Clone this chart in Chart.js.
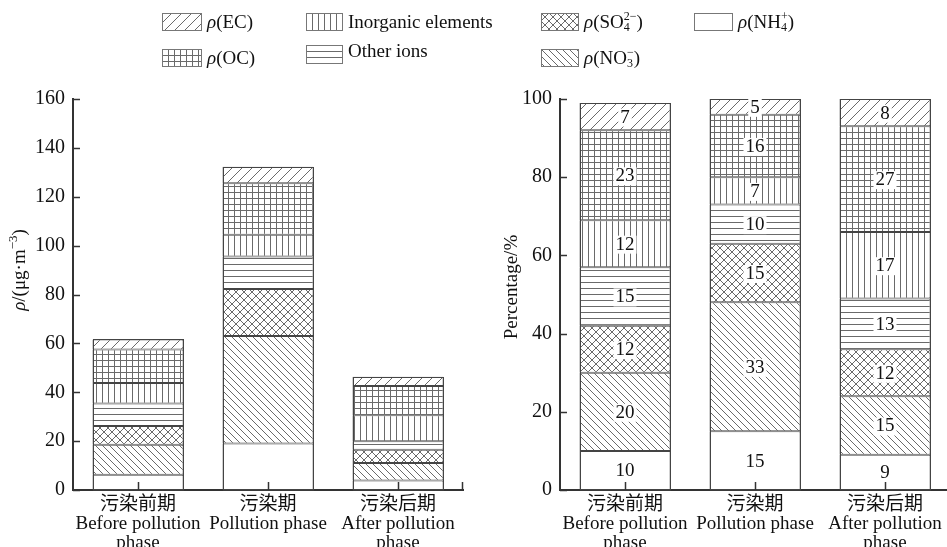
<!DOCTYPE html>
<html>
<head>
<meta charset="utf-8">
<script src="https://cdn.jsdelivr.net/npm/chart.js@4/dist/chart.umd.min.js"></script>
<style>
  html, body { margin: 0; padding: 0; background: #fff; overflow: hidden; width: 947px; height: 547px; }
  canvas.chart { position: absolute; top: 0; }
  #legend { position: absolute; left: 0; top: 0; width: 947px; height: 80px;
            font-family: "Liberation Serif", "Times New Roman", serif; font-size: 19px; color: #111; }
  .item { position: absolute; display: flex; align-items: center; height: 18px; white-space: nowrap; }
  .item canvas { display: block; margin-right: 5px; }
  .stk { display: inline-flex; flex-direction: column; vertical-align: middle; font-size: 12px; line-height: 11px; margin-top: -4px; }
</style>
</head>
<body>
<canvas id="left" class="chart" width="480" height="547" style="left:0"></canvas>
<canvas id="right" class="chart" width="490" height="547" style="left:480px"></canvas>

<div id="legend">
  <div class="item" style="left:162px;top:13px"><canvas width="40" height="18" data-kind="EC"></canvas><span><i>ρ</i>(EC)</span></div>
  <div class="item" style="left:162px;top:49px"><canvas width="40" height="18" data-kind="OC"></canvas><span><i>ρ</i>(OC)</span></div>
  <div class="item" style="left:306px;top:13px"><canvas width="37" height="18" data-kind="Inorganic"></canvas><span>Inorganic elements</span></div>
  <div class="item" style="left:306px;top:45px"><canvas width="37" height="19" data-kind="Other"></canvas><span style="position:relative;top:-3px">Other ions</span></div>
  <div class="item" style="left:541px;top:13px"><canvas width="38" height="18" data-kind="SO4"></canvas><span><i>ρ</i>(SO<span class="stk"><span>2−</span><span>4</span></span>)</span></div>
  <div class="item" style="left:541px;top:49px"><canvas width="38" height="18" data-kind="NO3"></canvas><span><i>ρ</i>(NO<span class="stk"><span>−</span><span>3</span></span>)</span></div>
  <div class="item" style="left:694px;top:13px"><canvas width="39" height="18" data-kind="NH4"></canvas><span><i>ρ</i>(NH<span class="stk"><span>+</span><span>4</span></span>)</span></div>
</div>

<script>
// Sampling periods (multi-line axis labels)
const categories = [
  ['污染前期', 'Before pollution', 'phase'],
  ['污染期', 'Pollution phase'],
  ['污染后期', 'After pollution', 'phase']
];

// Component keys, stacked from the bottom up
const componentKeys = ['NH4', 'NO3', 'SO4', 'Other', 'Inorganic', 'OC', 'EC'];

// Mass concentration, μg·m⁻³ (before, during, after)
const concNH4       = [6.2, 19.0, 3.9];
const concNO3       = [12.3, 44.0, 7.1];
const concSO4       = [7.7, 19.3, 5.5];
const concOther     = [9.2, 13.3, 3.5];
const concInorganic = [8.4, 8.9, 10.6];
const concOC        = [13.7, 21.0, 12.0];
const concEC        = [4.1, 6.8, 3.7];

// Share of total, %
const pctNH4       = [10, 15, 9];
const pctNO3       = [20, 33, 15];
const pctSO4       = [12, 15, 12];
const pctOther     = [15, 10, 13];
const pctInorganic = [12, 7, 17];
const pctOC        = [23, 16, 27];
const pctEC        = [7, 5, 8];

// Axis ticks
const concTicks = [0, 20, 40, 60, 80, 100, 120, 140, 160];
const pctTicks  = [0, 20, 40, 60, 80, 100];

const SERIF = '"Liberation Serif", "Times New Roman", "Noto Sans CJK SC", serif';
const INK = '#444';

// Hatch fills built on small tiles
function makeTile(kind) {
  const sizes = { EC: [10, 10], NO3: [7, 7], SO4: [8, 8], Inorganic: [6, 6], Other: [6, 6], OC: [6, 6], NH4: [4, 4] };
  const [w, h] = sizes[kind];
  const c = document.createElement('canvas');
  c.width = w; c.height = h;
  const g = c.getContext('2d');
  g.fillStyle = '#fff';
  g.fillRect(0, 0, w, h);
  g.strokeStyle = '#6a6a6a';
  g.lineWidth = 1;
  const seg = (x1, y1, x2, y2) => { g.beginPath(); g.moveTo(x1, y1); g.lineTo(x2, y2); g.stroke(); };
  const fwd = () => { seg(0, h, w, 0); seg(-1, 1, 1, -1); seg(w - 1, h + 1, w + 1, h - 1); };
  const back = () => { seg(0, 0, w, h); seg(-1, h - 1, 1, h + 1); seg(w - 1, -1, w + 1, 1); };
  if (kind === 'EC') fwd();
  if (kind === 'NO3') back();
  if (kind === 'SO4') { fwd(); back(); }
  if (kind === 'Inorganic' || kind === 'OC') seg(0.5, 0, 0.5, h);
  if (kind === 'Other' || kind === 'OC') seg(0, 0.5, w, 0.5);
  return c;
}

function makePattern(ctx, kind) {
  return ctx.createPattern(makeTile(kind), 'repeat');
}

// Legend swatches
document.querySelectorAll('#legend canvas').forEach(cv => {
  const g = cv.getContext('2d');
  g.fillStyle = makePattern(g, cv.dataset.kind);
  g.fillRect(0, 0, cv.width, cv.height);
  g.strokeStyle = '#777';
  g.lineWidth = 1;
  g.strokeRect(0.5, 0.5, cv.width - 1, cv.height - 1);
});

// Inward tick marks on both axes
const axisMarks = {
  id: 'axisMarks',
  afterDraw(chart) {
    const { ctx, chartArea: a } = chart;
    const xs = chart.scales.x, ys = chart.scales.y;
    ctx.save();
    ctx.strokeStyle = '#333';
    ctx.lineWidth = 1.5;
    ys.ticks.forEach(t => {
      const y = Math.round(ys.getPixelForValue(t.value)) + 0.5;
      ctx.beginPath(); ctx.moveTo(a.left, y); ctx.lineTo(a.left + 7, y); ctx.stroke();
    });
    const xTicks = xs.ticks.map((t, i) => xs.getPixelForTick(i)).concat([a.right - 1]);
    xTicks.forEach(x => {
      const px = Math.round(x) + 0.5;
      ctx.beginPath(); ctx.moveTo(px, a.bottom); ctx.lineTo(px, a.bottom - 8); ctx.stroke();
    });
    ctx.restore();
  }
};

// Outline of each whole stack, kept inside the plot area
const stackOutline = {
  id: 'stackOutline',
  afterDatasetsDraw(chart) {
    const { ctx, chartArea: a } = chart;
    const n = chart.data.datasets.length;
    const first = chart.getDatasetMeta(0).data;
    const last = chart.getDatasetMeta(n - 1).data;
    ctx.save();
    ctx.strokeStyle = INK;
    ctx.lineWidth = 1;
    first.forEach((bar, j) => {
      const top = Math.max(last[j].y, a.top);
      const l = Math.round(bar.x - bar.width / 2) + 0.5;
      const r = Math.round(bar.x + bar.width / 2) - 0.5;
      const t = Math.round(top) + 0.5;
      ctx.strokeRect(l, t, r - l, bar.base - t);
    });
    ctx.restore();
  }
};

// Value tags on the percentage bars
const valueTags = {
  id: 'valueTags',
  afterDatasetsDraw(chart) {
    const { ctx, chartArea: a } = chart;
    ctx.save();
    ctx.font = '19px ' + SERIF;
    ctx.textAlign = 'center';
    ctx.textBaseline = 'middle';
    chart.data.datasets.forEach((ds, i) => {
      chart.getDatasetMeta(i).data.forEach((bar, j) => {
        const top = Math.max(bar.y, a.top);
        const cy = (top + bar.base) / 2 + 1;
        const txt = String(ds.data[j]);
        const w = ctx.measureText(txt).width + 4;
        if (i > 0) {
          ctx.fillStyle = '#fff';
          ctx.fillRect(bar.x - w / 2, cy - 9, w, 18);
        }
        ctx.fillStyle = '#111';
        ctx.fillText(txt, bar.x, cy);
      });
    });
    ctx.restore();
  }
};

// Rotated y-axis title, drawn piecewise so ρ can be italic and the exponent raised
function yTitle(pieces, cx, cy) {
  return {
    id: 'yTitle',
    afterDraw(chart) {
      const ctx = chart.ctx;
      ctx.save();
      ctx.translate(cx, cy);
      ctx.rotate(-Math.PI / 2);
      ctx.fillStyle = '#111';
      ctx.textBaseline = 'middle';
      ctx.textAlign = 'left';
      const fontOf = p => (p.italic ? 'italic ' : '') + (p.size || 19) + 'px ' + SERIF;
      let total = 0;
      pieces.forEach(p => { ctx.font = fontOf(p); total += ctx.measureText(p.text).width; });
      let x = -total / 2;
      pieces.forEach(p => {
        ctx.font = fontOf(p);
        ctx.fillText(p.text, x, p.dy || 0);
        x += ctx.measureText(p.text).width;
      });
      ctx.restore();
    }
  };
}

function buildChart(id, series, ticks, yWidth, rightPad, extraPlugins) {
  const canvas = document.getElementById(id);
  const ctx = canvas.getContext('2d');
  const datasets = componentKeys.map((k, i) => ({
    label: k,
    data: series[i],
    backgroundColor: makePattern(ctx, k),
    borderColor: INK,
    borderWidth: 1,
    borderSkipped: false
  }));
  return new Chart(ctx, {
    type: 'bar',
    data: { labels: categories, datasets },
    options: {
      responsive: false,
      animation: false,
      devicePixelRatio: 1,
      barPercentage: 0.7,
      categoryPercentage: 1.0,
      layout: { padding: { top: 99, left: 0, right: rightPad, bottom: 0 } },
      plugins: { legend: { display: false }, tooltip: { enabled: false } },
      scales: {
        x: {
          stacked: true,
          grid: { display: false, drawTicks: false },
          border: { display: true, color: '#333', width: 2 },
          ticks: { color: '#111', padding: 6, maxRotation: 0, autoSkip: false,
                   font: { family: SERIF, size: 19, lineHeight: 0.98 } },
          afterFit: s => { s.height = 57; }
        },
        y: {
          stacked: true,
          min: ticks[0],
          max: ticks[ticks.length - 1],
          afterBuildTicks: s => { s.ticks = ticks.map(v => ({ value: v })); },
          grid: { display: false, drawTicks: false },
          border: { display: true, color: '#333', width: 2 },
          ticks: { color: '#111', padding: 8, font: { family: SERIF, size: 20 } },
          afterFit: s => { s.width = yWidth; }
        }
      }
    },
    plugins: [axisMarks, stackOutline].concat(extraPlugins)
  });
}

buildChart('left',
  [concNH4, concNO3, concSO4, concOther, concInorganic, concOC, concEC],
  concTicks, 73, 17,
  [yTitle([{ text: 'ρ', italic: true }, { text: '/(μg·m' }, { text: '−3', size: 13, dy: -6 }, { text: ')' }], 20, 270)]);

buildChart('right',
  [pctNH4, pctNO3, pctSO4, pctOther, pctInorganic, pctOC, pctEC],
  pctTicks, 80, 20,
  [valueTags, yTitle([{ text: 'Percentage/%' }], 512 - 480, 287)]);
</script>
</body>
</html>
